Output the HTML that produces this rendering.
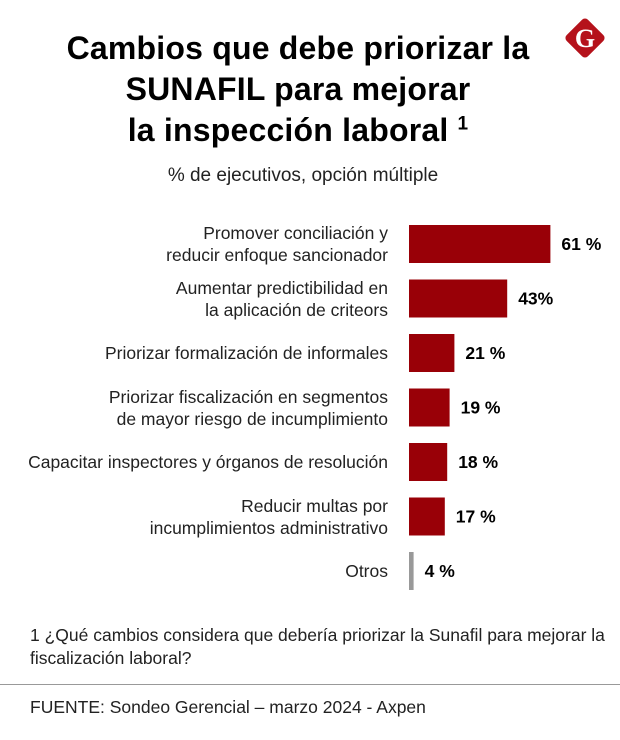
<!DOCTYPE html>
<html><head><meta charset="utf-8"><style>
body{margin:0;width:620px;height:740px;background:#fff;font-family:"Liberation Sans",sans-serif;position:relative;overflow:hidden}
.t{position:absolute;left:0;width:620px;text-align:center;font-weight:bold;font-size:32px;color:#000;letter-spacing:0.2px}
.lab{position:absolute;right:232px;text-align:right;font-size:17.5px;line-height:22px;color:#222;white-space:nowrap}
</style></head><body>
<div class="t" style="top:30px;left:-12px">Cambios que debe priorizar la</div>
<div class="t" style="top:71px;left:-12px">SUNAFIL para mejorar</div>
<div class="t" style="top:112px;left:-12px">la inspección laboral <sup style="font-size:19px">1</sup></div>
<div style="position:absolute;top:165px;left:0;width:606px;text-align:center;font-size:19px;color:#222">% de ejecutivos, opción múltiple</div>
<svg style="position:absolute;left:561px;top:14px" width="48" height="48" viewBox="0 0 48 48">
<rect x="9" y="9" width="30" height="30" rx="4" transform="rotate(45 24 24)" fill="#b5121b"/>
<text x="24" y="33" text-anchor="middle" font-size="26" font-weight="bold" fill="#fff" font-family="Liberation Serif,serif">G</text></svg>
<svg id="chart" style="position:absolute;left:0;top:0" width="620" height="600"></svg>
<div id="labels"></div>
<div style="position:absolute;top:624px;left:30px;width:590px;font-size:17.5px;line-height:23px;color:#222">1 ¿Qué cambios considera que debería priorizar la Sunafil para mejorar la fiscalización laboral?</div>
<div style="position:absolute;top:684px;left:0;width:620px;height:1px;background:#999"></div>
<div style="position:absolute;top:697px;left:30px;font-size:17.5px;color:#222">FUENTE: Sondeo Gerencial – marzo 2024 - Axpen</div>
<script>
const categories=[["Promover conciliación y","reducir enfoque sancionador"],["Aumentar predictibilidad en","la aplicación de criteors"],["Priorizar formalización de informales"],["Priorizar fiscalización en segmentos","de mayor riesgo de incumplimiento"],["Capacitar inspectores y órganos de resolución"],["Reducir multas por","incumplimientos administrativo"],["Otros"]];
const values=[61,43,21,19,18,17,4];
const valueLabels=["61 %","43%","21 %","19 %","18 %","17 %","4 %"];
const svg=document.getElementById('chart'),NS="http://www.w3.org/2000/svg";
const x0=409;
function xw(v){return Math.max(4,2.4*v-5);}
function yc(i){return 244+i*54.5;}
values.forEach((v,i)=>{
 const r=document.createElementNS(NS,'rect');
 
 
 const h=38;
 r.setAttribute('x',x0);r.setAttribute('y',yc(i)-h/2);r.setAttribute('width',xw(v));r.setAttribute('height',h);
 r.setAttribute('fill',i==6?'#999':'#990007');svg.appendChild(r);
 const t=document.createElementNS(NS,'text');
 
 
 t.setAttribute('x',x0+xw(v)+11);t.setAttribute('y',yc(i)+6);t.setAttribute('font-size','17.5');t.setAttribute('font-weight','bold');
 t.setAttribute('font-family','Liberation Sans, sans-serif');t.textContent=valueLabels[i];svg.appendChild(t);
 const d=document.createElement('div');
 
 
 d.className='lab';d.innerHTML=categories[i].join('<br>');
 d.style.top=(yc(i)-categories[i].length*11)+'px';
 document.getElementById('labels').appendChild(d);
});
</script>
</body></html>
